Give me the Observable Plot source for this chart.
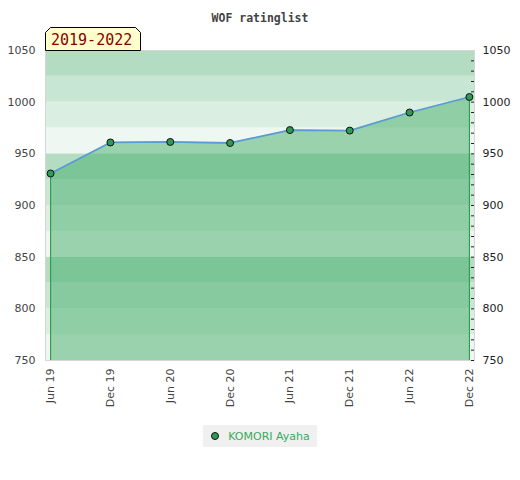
<!DOCTYPE html>
<html>
<head>
<meta charset="utf-8">
<script src="https://cdn.jsdelivr.net/npm/d3@7"></script>
<script src="https://cdn.jsdelivr.net/npm/@observablehq/plot@0.6"></script>
<style>
  html, body { margin: 0; padding: 0; background: #fff; }
  #wrap { position: relative; width: 520px; height: 480px; }
  #chart svg { display: block; }
  #badge { position: absolute; left: 0; top: 0; pointer-events: none; }
  #legend {
    position: absolute; top: 425px; left: 0; width: 520px;
    display: flex; justify-content: center;
  }
  #legend .box {
    background: #f0f0f0; height: 22px; padding: 0 7px 0 8px;
    display: flex; align-items: center;
    font-family: "DejaVu Sans", sans-serif; font-size: 11px; color: #3aaa5c;
  }
  #legend .dot {
    width: 6px; height: 6px; border-radius: 50%;
    background: #2e9a55; border: 1px solid #111; margin-right: 9px;
  }
</style>
</head>
<body>
<div id="wrap">
  <div id="chart"></div>
  <svg id="badge" width="520" height="60">
    <polygon points="45.5,50.5 45.5,32.5 50.5,27.5 135.5,27.5 140.5,32.5 140.5,50.5"
             fill="#ffffcc" stroke="#000" stroke-width="1"/>
    <text id="badgeText" x="51" y="45" fill="#8b0000"
          font-family="'DejaVu Sans Mono', monospace" font-size="15"></text>
  </svg>
  <div id="legend"><div class="box"><span class="dot"></span><span id="legendText"></span></div></div>
</div>
<script>
const titleText = "WOF ratinglist";
const periodLabel = "2019-2022";
const playerName = "KOMORI Ayaha";
const dates = ["Jun 19", "Dec 19", "Jun 20", "Dec 20", "Jun 21", "Dec 21", "Jun 22", "Dec 22"];
const ratings = [931, 961, 961.5, 960.5, 973, 972.5, 990, 1005];
const yTicks = [750, 800, 850, 900, 950, 1000, 1050];
const minorTicks = [750, 760, 770, 780, 790, 800, 810, 820, 830, 840, 850, 860, 870, 880, 890, 900, 910, 920, 930, 940, 950, 960, 970, 980, 990, 1000, 1010, 1020, 1030, 1040];
const bandStarts = [750, 775, 800, 825, 850, 875, 900, 925, 950, 975, 1000, 1025];

const bandPalette = ["#eef7f1", "#dbeee2", "#c8e6d4", "#b3dcc2"];
const data = dates.map((d, i) => ({date: d, value: ratings[i]}));
const bands = bandStarts.map((s, i) => ({y1: s, y2: s + 25, k: i % 4}));
const ends = [data[0], data[data.length - 1]];

document.getElementById("badgeText").textContent = periodLabel;
document.getElementById("legendText").textContent = playerName;

const chart = Plot.plot({
  width: 520,
  height: 420,
  marginTop: 50,
  marginBottom: 60,
  marginLeft: 45,
  marginRight: 46,
  style: {fontFamily: "DejaVu Sans, sans-serif", fontSize: "11px", color: "#444", background: "transparent"},
  x: {type: "point", domain: dates, padding: 0.085, round: false, label: null},
  y: {domain: [750, 1050], label: null},
  marks: [
    Plot.rect(bands, {y1: "y1", y2: "y2", fill: d => bandPalette[d.k]}),
    Plot.frame({stroke: "#d6d6d6"}),
    Plot.areaY(data, {x: "date", y1: 750, y2: "value", fill: "#46ad69", fillOpacity: 0.5}),
    Plot.ruleX(ends, {x: "date", y1: 750, y2: "value", stroke: "#2ea050", strokeWidth: 1.2}),
    Plot.line(data, {x: "date", y: "value", stroke: "#5b9bd5", strokeWidth: 1.8}),
    Plot.dot(data, {x: "date", y: "value", r: 3.5, fill: "#2e9a55", stroke: "#111", strokeWidth: 1}),
    Plot.tickY(minorTicks, {y: d => d, insetLeft: 426, stroke: "#222", strokeWidth: 1}),
    Plot.axisY({anchor: "left", ticks: yTicks, tickFormat: d => String(d), tickSize: 0, tickPadding: 10, fill: "#444"}),
    Plot.axisY({anchor: "right", ticks: yTicks, tickFormat: d => String(d), tickSize: 0, tickPadding: 8, fill: "#222"}),
    Plot.axisX({anchor: "bottom", tickSize: 0, tickPadding: 8, tickRotate: -90, fill: "#444"}),
    Plot.text([titleText], {frameAnchor: "top", dy: -37, fontWeight: "bold", fontFamily: "DejaVu Sans Mono, monospace", fontSize: 11.5, fill: "#444"})
  ]
});
document.getElementById("chart").appendChild(chart);
</script>
</body>
</html>
